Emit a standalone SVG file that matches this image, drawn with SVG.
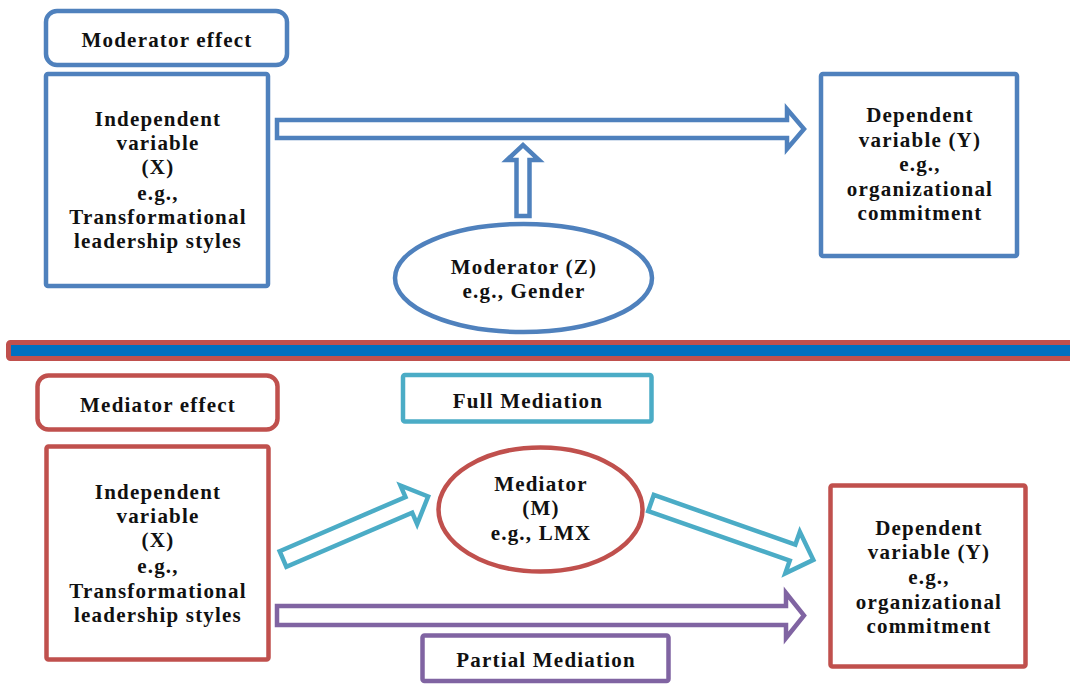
<svg xmlns="http://www.w3.org/2000/svg" width="1070" height="684" viewBox="0 0 1070 684">
  <style>
    .lbl { font-family: "Liberation Serif", "Times New Roman", serif; font-weight: bold; font-size: 21px; letter-spacing: 1.2px; fill: #111; text-anchor: middle; }
    .blue { fill: #FFFFFF; stroke: #4F81BD; stroke-width: 4.5; }
    .red { fill: #FFFFFF; stroke: #C0504D; stroke-width: 4.5; }
    .teal { fill: #FFFFFF; stroke: #4BACC6; stroke-width: 4.5; stroke-linejoin: miter; }
    .purple { fill: #FFFFFF; stroke: #8064A2; stroke-width: 4.5; stroke-linejoin: miter; }
    .blueArrow { fill: #FFFFFF; stroke: #4F81BD; stroke-width: 4.5; stroke-linejoin: miter; }
  </style>
  <rect width="1070" height="684" fill="#FFFFFF"/>

  <!-- Moderator panel -->
  <g id="moderator-title">
    <rect class="blue" x="46" y="11" width="241" height="54" rx="11"/>
    <text class="lbl" x="167" y="47">Moderator effect</text>
  </g>
  <g id="mod-independent">
    <rect class="blue" x="46" y="74" width="222" height="212" rx="2"/>
    <text class="lbl" x="158" y="126">Independent</text>
    <text class="lbl" x="158" y="150">variable</text>
    <text class="lbl" x="158" y="174">(X)</text>
    <text class="lbl" x="158" y="200">e.g.,</text>
    <text class="lbl" x="158" y="224">Transformational</text>
    <text class="lbl" x="158" y="248">leadership styles</text>
  </g>
  <g id="mod-dependent">
    <rect class="blue" x="821" y="74" width="196" height="182" rx="2"/>
    <text class="lbl" x="920" y="122">Dependent</text>
    <text class="lbl" x="920" y="147">variable (Y)</text>
    <text class="lbl" x="920" y="171">e.g.,</text>
    <text class="lbl" x="920" y="196">organizational</text>
    <text class="lbl" x="920" y="220">commitment</text>
  </g>
  <g id="moderator">
    <ellipse class="blue" cx="523.5" cy="278" rx="128.5" ry="54"/>
    <text class="lbl" x="524" y="274">Moderator (Z)</text>
    <text class="lbl" x="524" y="298">e.g., Gender</text>
  </g>

  <!-- Panel divider -->
  <g id="divider">
    <rect x="8.5" y="342.5" width="1070" height="16" rx="2" fill="#0070C0" stroke="#C0504D" stroke-width="5"/>
  </g>

  <!-- Mediator panel -->
  <g id="mediator-title">
    <rect class="red" x="37.5" y="375.5" width="240" height="54" rx="11"/>
    <text class="lbl" x="158" y="412">Mediator effect</text>
  </g>
  <g id="full-mediation">
    <rect x="403" y="375" width="248.5" height="46.5" rx="2" fill="#FFFFFF" stroke="#4BACC6" stroke-width="4.5"/>
    <text class="lbl" x="528" y="408">Full Mediation</text>
  </g>
  <g id="med-independent">
    <rect class="red" x="46.5" y="446.5" width="222" height="213" rx="2"/>
    <text class="lbl" x="158" y="499">Independent</text>
    <text class="lbl" x="158" y="523">variable</text>
    <text class="lbl" x="158" y="547">(X)</text>
    <text class="lbl" x="158" y="573">e.g.,</text>
    <text class="lbl" x="158" y="598">Transformational</text>
    <text class="lbl" x="158" y="622">leadership styles</text>
  </g>
  <g id="mediator">
    <ellipse class="red" cx="540.5" cy="509.5" rx="102" ry="62"/>
    <text class="lbl" x="541" y="491">Mediator</text>
    <text class="lbl" x="541" y="515">(M)</text>
    <text class="lbl" x="541" y="540">e.g., LMX</text>
  </g>
  <g id="med-dependent">
    <rect class="red" x="830.5" y="485.5" width="195" height="181" rx="2"/>
    <text class="lbl" x="929" y="535">Dependent</text>
    <text class="lbl" x="929" y="559">variable (Y)</text>
    <text class="lbl" x="929" y="584">e.g.,</text>
    <text class="lbl" x="929" y="609">organizational</text>
    <text class="lbl" x="929" y="633">commitment</text>
  </g>
  <g id="partial-mediation">
    <rect x="422.5" y="635.5" width="246" height="45.5" rx="2" fill="#FFFFFF" stroke="#8064A2" stroke-width="4.5"/>
    <text class="lbl" x="546" y="667">Partial Mediation</text>
  </g>

  <!-- Block arrows -->
  <g id="connectors">
    <path class="blueArrow" d="M277,120 H787 V109 L804,129 L787,149 V138 H277 Z"/>
    <path class="blueArrow" d="M516.5,216 V160 H507 L523,145 L539,160 H529.5 V216 Z"/>
    <path class="teal" transform="translate(283,559) rotate(-23.3)" d="M0,-8.5 H137 V-21 L158,0 L137,21 V8.5 H0 Z"/>
    <path class="teal" transform="translate(651,503) rotate(19.3)" d="M0,-8.5 H150 V-22 L172,0 L150,22 V8.5 H0 Z"/>
    <path class="purple" d="M277,606 H786 V593 L804,615.5 L786,638 V625 H277 Z"/>
  </g>
</svg>
